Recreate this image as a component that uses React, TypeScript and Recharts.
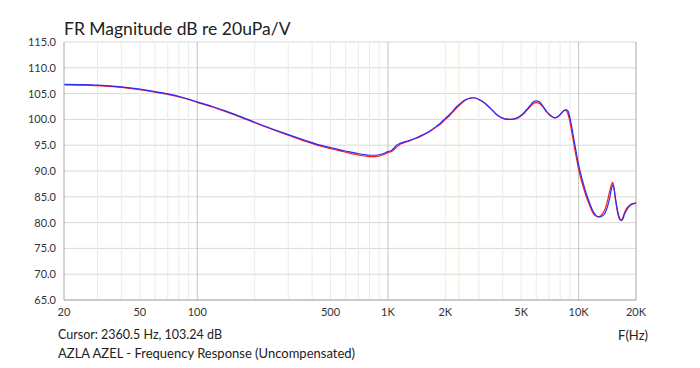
import { LineChart, Line, XAxis, YAxis, CartesianGrid, ReferenceLine } from "recharts";

const freqHz = [
  20, 25, 30, 40, 50, 60, 70, 85, 100, 120,
  140, 170, 200, 250, 300, 370, 440, 500, 560, 620,
  680, 740, 800, 860, 930, 1000, 1050, 1080, 1110, 1150,
  1200, 1300, 1400, 1500, 1650, 1800, 1900, 2000, 2100, 2200,
  2300, 2400, 2500, 2600, 2700, 2800, 2900, 3000, 3150, 3300,
  3500, 3700, 3900, 4100, 4300, 4550, 4800, 5000, 5200, 5400,
  5600, 5800, 6000, 6200, 6400, 6600, 6800, 7000, 7250, 7500,
  7750, 8000, 8200, 8400, 8600, 8800, 9000, 9200, 9400, 9600,
  9800, 10000, 10300, 10600, 11000, 11400, 11800, 12200, 12600, 13000,
  13400, 13800, 14200, 14600, 14900, 15100, 15300, 15600, 15900, 16200,
  16500, 16800, 17100, 17400, 17900, 18400, 18900, 19500, 20000,
];

const blueDb = [
  106.8, 106.75, 106.65, 106.3, 105.85, 105.4, 104.95, 104.2, 103.4, 102.5,
  101.65, 100.5, 99.45, 98.1, 97.05, 95.9, 95.0, 94.55, 94.1, 93.75,
  93.45, 93.2, 93.05, 93.05, 93.3, 93.75, 94.05, 94.5, 95.0, 95.3,
  95.55, 95.95, 96.4, 96.9, 97.7, 98.7, 99.4, 100.2, 100.9, 101.7,
  102.5, 103.1, 103.6, 103.95, 104.15, 104.2, 104.1, 103.85, 103.4, 102.8,
  101.9, 101.0, 100.4, 100.1, 100.0, 100.05, 100.35, 100.8, 101.4, 102.1,
  102.8, 103.4, 103.6, 103.45, 102.9, 102.2, 101.5, 101.0, 100.55, 100.3,
  100.45, 100.9, 101.35, 101.75, 101.9, 101.6, 100.4, 98.6, 96.6, 94.7,
  92.9, 91.2, 89.2, 87.5, 85.5, 83.9, 82.5, 81.6, 81.15, 81.1,
  81.35, 81.9, 83.2, 85.0, 86.7, 87.3, 86.8, 84.8, 82.9, 81.5,
  80.7, 80.4, 80.8, 81.6, 82.5, 83.1, 83.5, 83.65, 83.75,
];

const redDb = [
  106.7, 106.65, 106.55, 106.2, 105.75, 105.3, 104.85, 104.1, 103.3, 102.4,
  101.55, 100.4, 99.35, 98.0, 96.95, 95.75, 94.85, 94.35, 93.9, 93.5,
  93.2, 92.95, 92.8, 92.8, 93.05, 93.55, 93.85, 94.2, 94.6, 95.1,
  95.4, 95.85, 96.3, 96.8, 97.6, 98.55, 99.2, 100.0, 100.7, 101.5,
  102.3, 102.95, 103.5, 103.9, 104.1, 104.2, 104.1, 103.85, 103.4, 102.8,
  101.9, 101.0, 100.4, 100.1, 100.0, 100.05, 100.3, 100.7, 101.25, 101.9,
  102.55, 103.1, 103.25, 103.15, 102.7, 102.1, 101.45, 100.95, 100.5, 100.3,
  100.5, 100.95, 101.4, 101.7, 101.7, 101.0, 99.6, 97.6, 95.6, 93.7,
  92.0, 90.3, 88.4, 86.8, 84.9, 83.4, 82.1, 81.35, 81.15, 81.3,
  81.8, 82.7, 84.3, 86.3, 87.5, 87.8, 86.9, 84.5, 82.5, 81.1,
  80.5, 80.5, 81.1, 81.9, 82.8, 83.3, 83.6, 83.75, 83.9,
];

const xTicks = [20, 50, 100, 500, 1000, 2000, 5000, 10000, 20000];
const yTicks = [65, 70, 75, 80, 85, 90, 95, 100, 105, 110, 115];
const minorGrid = [
  30, 40, 50, 60, 70, 80, 90,
  200, 300, 400, 500, 600, 700, 800, 900,
  2000, 3000, 4000, 5000, 6000, 7000, 8000, 9000,
];
const majorGrid = [100, 1000, 10000];
const cursorHz = 2360.5;

const rows = freqHz.map((f, i) => ({ f, blue: blueDb[i], red: redDb[i] }));

const font = "Lato, 'Noto Sans', sans-serif";
const fmtHz = (v: number) => (v >= 1000 ? `${v / 1000}K` : `${v}`);

export default function App() {
  return (
    <div style={{ position: "absolute", left: 0, top: 0, width: 700, height: 368, background: "#fff", fontFamily: font }}>
      <div style={{ position: "absolute", left: 64, top: 18, fontSize: 17.5, color: "#222" }}>
        FR Magnitude dB re 20uPa/V
      </div>
      <LineChart width={700} height={368} data={rows} margin={{ top: 42, right: 64, bottom: 38, left: 0 }}>
        <CartesianGrid vertical={false} stroke="#d9d9d9" />
        {minorGrid.map((g) => (
          <ReferenceLine key={g} x={g} stroke="#ebebeb" />
        ))}
        {majorGrid.map((g) => (
          <ReferenceLine key={g} x={g} stroke="#c4c4c4" />
        ))}
        <ReferenceLine x={cursorHz} stroke="#f2edc2" />
        <ReferenceLine x={20000} stroke="#a8a8a8" />
        <XAxis
          dataKey="f"
          type="number"
          scale="log"
          domain={[20, 20000]}
          ticks={xTicks}
          tickFormatter={fmtHz}
          allowDataOverflow
          height={30}
          tickLine={false}
          stroke="#a8a8a8"
          tick={{ fontSize: 11, fill: "#333", fontFamily: font }}
        />
        <YAxis
          type="number"
          domain={[65, 115]}
          ticks={yTicks}
          tickFormatter={(v: number) => v.toFixed(1)}
          width={64}
          tickLine={false}
          stroke="#a8a8a8"
          tick={{ fontSize: 11, fill: "#333", fontFamily: font }}
        />
        <Line dataKey="red" type="monotone" stroke="#ff1a1a" strokeWidth={1.2} dot={false} isAnimationActive={false} />
        <Line dataKey="blue" type="monotone" stroke="#2a2aff" strokeWidth={1.2} dot={false} isAnimationActive={false} />
      </LineChart>
      <div style={{ position: "absolute", left: 58, top: 327, fontSize: 12.5, color: "#222" }}>
        Cursor: 2360.5 Hz, 103.24 dB
      </div>
      <div style={{ position: "absolute", right: 52, top: 327, fontSize: 13, color: "#222" }}>F(Hz)</div>
      <div style={{ position: "absolute", left: 58, top: 345, fontSize: 13, color: "#222" }}>
        AZLA AZEL - Frequency Response (Uncompensated)
      </div>
    </div>
  );
}
